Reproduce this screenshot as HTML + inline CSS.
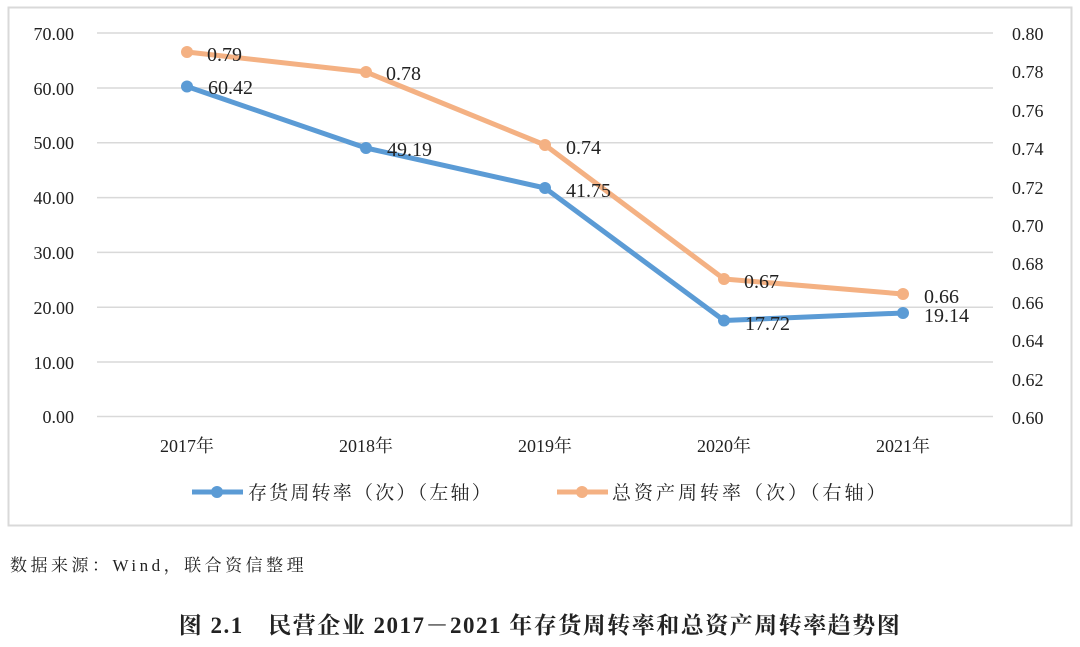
<!DOCTYPE html><html><head><meta charset="utf-8"><style>body{margin:0;background:#fff;width:1080px;height:642px;overflow:hidden}</style></head><body>
<svg width="1080" height="642" xmlns="http://www.w3.org/2000/svg" font-family="'Liberation Serif','Noto Serif CJK SC',serif">
<rect x="8.5" y="7.5" width="1063" height="518" fill="#fff" stroke="#d9d9d9" stroke-width="2"/>
<g stroke="#d9d9d9" stroke-width="1.5">
<line x1="97" x2="993" y1="33" y2="33"/><line x1="97" x2="993" y1="88" y2="88"/><line x1="97" x2="993" y1="142.7" y2="142.7"/><line x1="97" x2="993" y1="197.6" y2="197.6"/><line x1="97" x2="993" y1="252.4" y2="252.4"/><line x1="97" x2="993" y1="307.3" y2="307.3"/><line x1="97" x2="993" y1="362" y2="362"/><line x1="97" x2="993" y1="416.5" y2="416.5"/>
</g>
<g font-size="18" fill="#222" text-anchor="end">
<text x="74" y="40">70.00</text><text x="74" y="95">60.00</text><text x="74" y="149">50.00</text><text x="74" y="204">40.00</text><text x="74" y="259">30.00</text><text x="74" y="314">20.00</text><text x="74" y="369">10.00</text><text x="74" y="423">0.00</text>
</g>
<g font-size="18" fill="#222">
<text x="1012" y="40">0.80</text><text x="1012" y="78">0.78</text><text x="1012" y="117">0.76</text><text x="1012" y="155">0.74</text><text x="1012" y="194">0.72</text><text x="1012" y="232">0.70</text><text x="1012" y="270">0.68</text><text x="1012" y="309">0.66</text><text x="1012" y="347">0.64</text><text x="1012" y="386">0.62</text><text x="1012" y="424">0.60</text>
</g>
<g font-size="18" fill="#222" text-anchor="middle">
<text x="187" y="452">2017年</text><text x="366" y="452">2018年</text><text x="545" y="452">2019年</text><text x="724" y="452">2020年</text><text x="903" y="452">2021年</text>
</g>
<polyline points="187,52 366,72 545,145 724,279 903,294" fill="none" stroke="#f4b183" stroke-width="5" stroke-linejoin="round"/>
<g fill="#f4b183"><circle cx="187" cy="52" r="6"/><circle cx="366" cy="72" r="6"/><circle cx="545" cy="145" r="6"/><circle cx="724" cy="279" r="6"/><circle cx="903" cy="294" r="6"/></g>
<polyline points="187,86.5 366,148 545,188 724,320.5 903,313" fill="none" stroke="#5b9bd5" stroke-width="5" stroke-linejoin="round"/>
<g fill="#5b9bd5"><circle cx="187" cy="86.5" r="6"/><circle cx="366" cy="148" r="6"/><circle cx="545" cy="188" r="6"/><circle cx="724" cy="320.5" r="6"/><circle cx="903" cy="313" r="6"/></g>
<g font-size="20" fill="#222">
<text x="207" y="61">0.79</text><text x="386" y="80">0.78</text><text x="566" y="154">0.74</text><text x="744" y="288">0.67</text><text x="924" y="303">0.66</text>
<text x="208" y="94">60.42</text><text x="387" y="156">49.19</text><text x="566" y="197">41.75</text><text x="745" y="330">17.72</text><text x="924" y="322">19.14</text>
</g>
<line x1="192" x2="243" y1="492" y2="492" stroke="#5b9bd5" stroke-width="5"/><circle cx="217" cy="492" r="6" fill="#5b9bd5"/>
<text x="248" y="499" font-size="19" letter-spacing="2.2" fill="#222">存货周转率（次）（左轴）</text>
<line x1="557" x2="608" y1="492" y2="492" stroke="#f4b183" stroke-width="5"/><circle cx="582" cy="492" r="6" fill="#f4b183"/>
<text x="612" y="499" font-size="19" letter-spacing="3" fill="#222">总资产周转率（次）（右轴）</text>
<text x="10" y="571" font-size="17" letter-spacing="3.5" fill="#222">数据来源：Wind，联合资信整理</text>
<text x="540" y="633" font-size="23" letter-spacing="1.5" font-weight="bold" fill="#222" text-anchor="middle">图 2.1　民营企业 2017－2021 年存货周转率和总资产周转率趋势图</text>
</svg>
</body></html>
